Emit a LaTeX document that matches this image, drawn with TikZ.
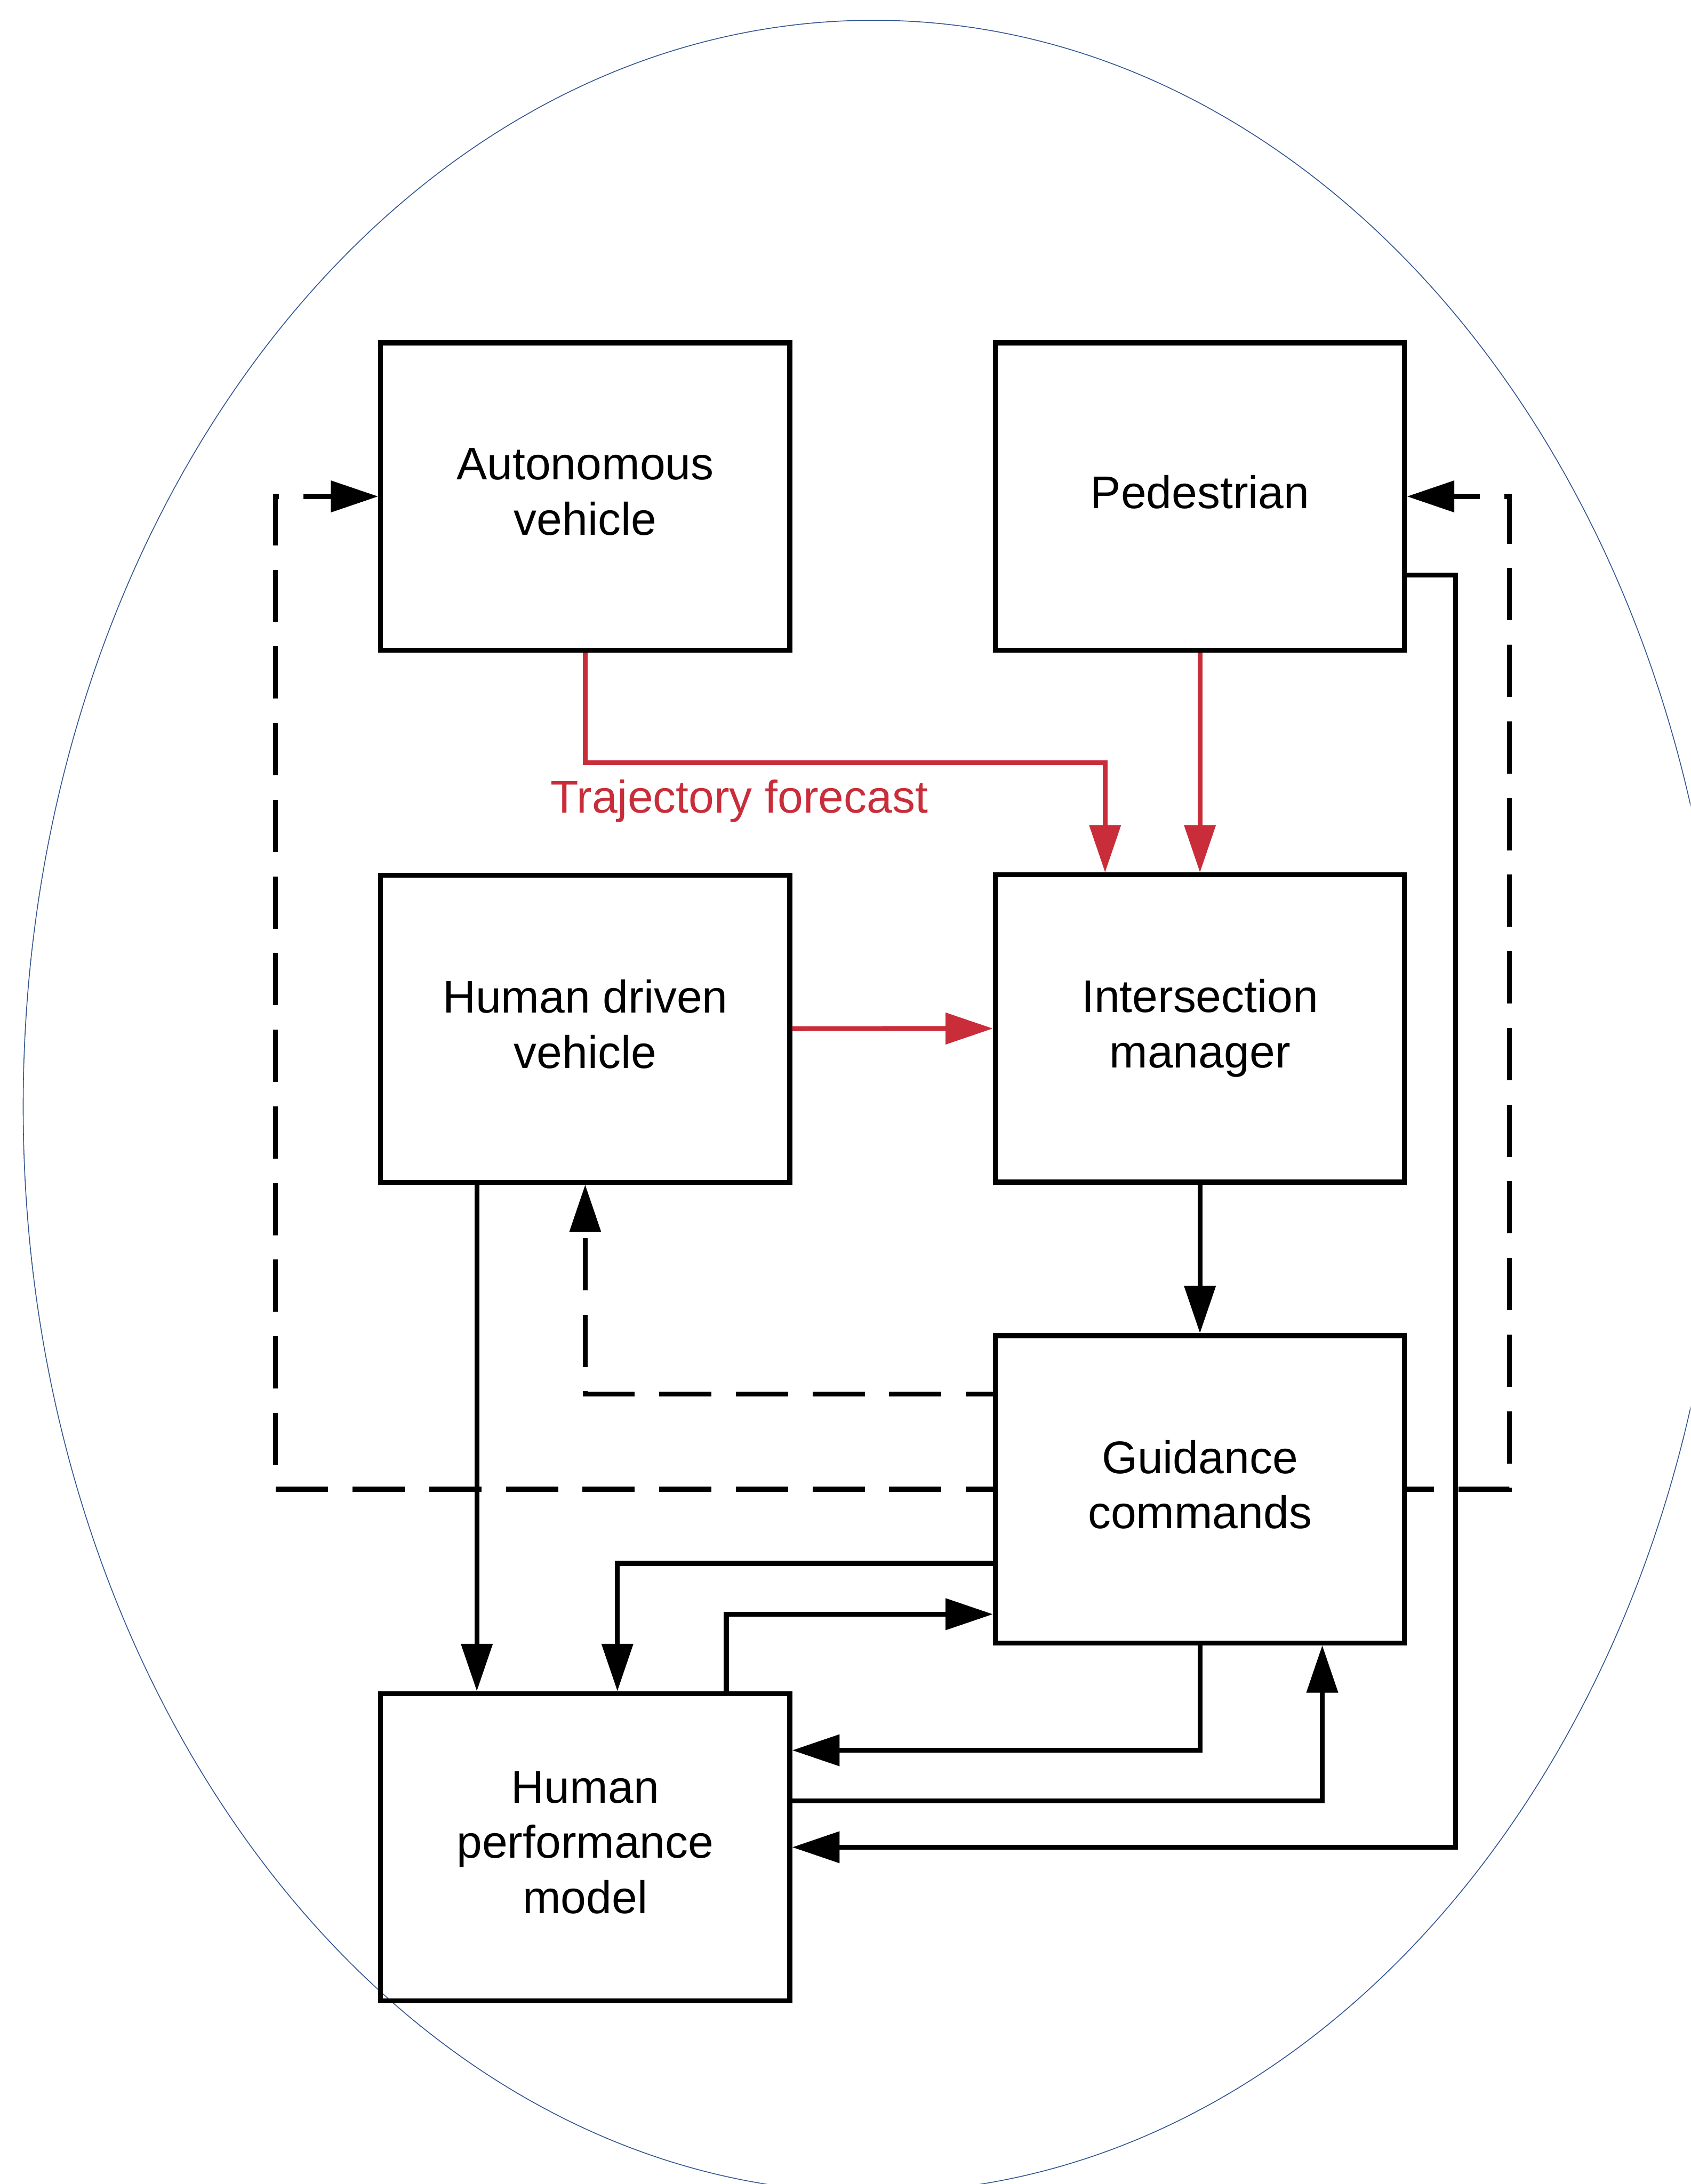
\documentclass[tikz,border=0pt]{standalone}
\usepackage{fontspec}
\setmainfont{Liberation Sans}
\usetikzlibrary{arrows.meta}
\definecolor{arrred}{RGB}{201,45,58}
\definecolor{ellblue}{RGB}{47,82,143}
\begin{document}
\begin{tikzpicture}[x=0.01cm,y=-0.01cm,
  txt/.style={font=\fontsize{9.35}{11.3}\selectfont},
  box/.style={txt,draw,line width=0.035cm,minimum width=2.935cm,minimum height=2.204cm,
    inner sep=0pt,align=center,text depth=0.07cm},
  conn/.style={line width=0.035cm,-{Triangle[length=0.34cm,width=0.22cm]}},
  dashpat/.style={dash pattern=on 0.375cm off 0.175cm,dash phase=0.18cm}]
\useasboundingbox (0,0) rectangle (1213.6,1568);
\fill[white] (0,0) rectangle (1213.6,1568);
\begin{scope}
\clip (0,0) rectangle (1213.6,1568);
\draw[ellblue,line width=0.006cm] (627,794.4) ellipse [x radius=6.10cm, y radius=7.794cm];
\end{scope}

\node[box] (AV)  at (420.1,356.4)  {Autonomous\\vehicle};
\node[box] (PED) at (861.4,356.4)  {Pedestrian};
\node[box] (HDV) at (420.1,738.5)  {Human driven\\vehicle};
\node[box] (IM)  at (861.4,738.4)  {Intersection\\manager};
\node[box] (GC)  at (861.4,1069.2) {Guidance\\commands};
\node[box] (HPM) at (420.1,1326.2) {Human\\performance\\model};

\coordinate (tf) at (793.3,547.6);
\coordinate (dh) at (420.1,1000.8);
\coordinate (dl) at (197.8,0);
\coordinate (dr) at (1083.5,0);
\coordinate (v1) at (342.3,0);
\coordinate (g1) at (443.2,1122.4);
\coordinate (g2) at (521.4,1158.9);
\coordinate (g3) at (861.4,1256.6);
\coordinate (g4) at (949.2,1292.9);
\coordinate (g5) at (1044.8,413.0);

\draw[conn,arrred] (AV.south) |- (tf) -- (tf |- IM.north);
\node[txt,text=arrred,anchor=base,inner sep=0pt] (TF) at (530.7,583.4) {Trajectory forecast};
\draw[conn,arrred] (PED.south) -- (IM.north);
\draw[conn,arrred] (HDV.east) -- (IM.west);
\draw[conn] (IM.south) -- (GC.north);
\draw[conn,dashpat] (dh -| GC.west) -- (dh) -- (HDV.south);
\draw[conn,dashpat] (GC.west) -| (AV.west -| dl) -- (AV.west);
\draw[conn,dashpat] (GC.east) -| (PED.east -| dr) -- (PED.east);
\draw[conn] (HDV.south -| v1) -- (HPM.north -| v1);
\draw[conn] (g1 -| GC.west) -- (g1) -- (g1 |- HPM.north);
\draw[conn] (g2 |- HPM.north) -- (g2) -- (g2 -| GC.west);
\draw[conn] (GC.south) -- (g3) -- (g3 -| HPM.east);
\draw[conn] (g4 -| HPM.east) -- (g4) -- (g4 |- GC.south);
\draw[conn] (g5 -| PED.east) -- (g5) -- (g5 |- HPM.east) -- (HPM.east);
\end{tikzpicture}
\end{document}
